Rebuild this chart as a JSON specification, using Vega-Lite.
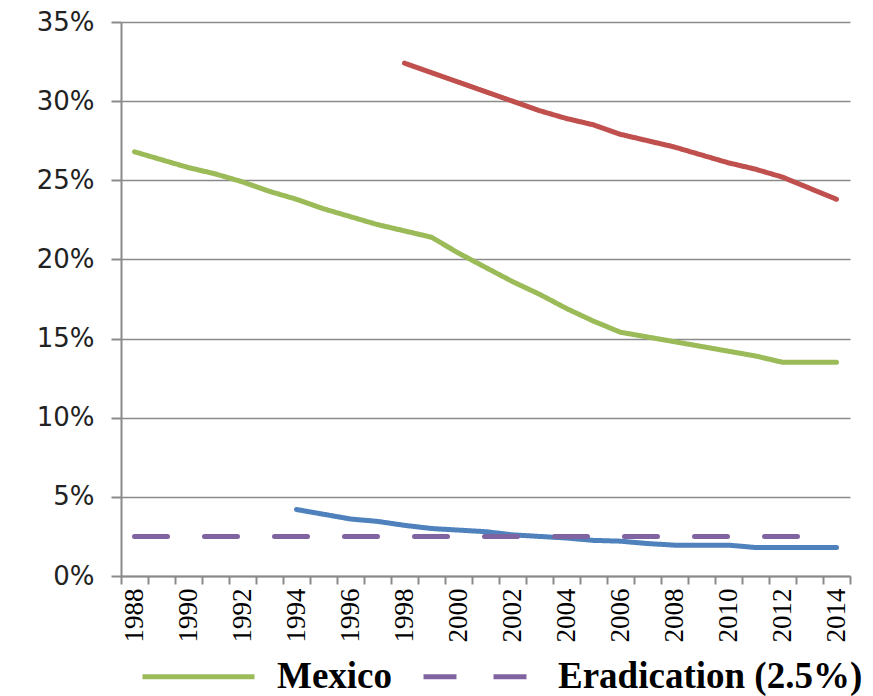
{
  "$schema": "https://vega.github.io/schema/vega-lite/v6.json",
  "width": 729,
  "height": 554,
  "autosize": {"type": "none"},
  "padding": {"left": 121, "top": 22, "right": 23, "bottom": 120},
  "background": "white",
  "config": {"view": {"stroke": null}},
  "data": {
    "values": [
      {"year": 1988, "series": "Mexico", "value": 26.8},
      {"year": 1989, "series": "Mexico", "value": 26.3},
      {"year": 1990, "series": "Mexico", "value": 25.8},
      {"year": 1991, "series": "Mexico", "value": 25.4},
      {"year": 1992, "series": "Mexico", "value": 24.9},
      {"year": 1993, "series": "Mexico", "value": 24.3},
      {"year": 1994, "series": "Mexico", "value": 23.8},
      {"year": 1995, "series": "Mexico", "value": 23.2},
      {"year": 1996, "series": "Mexico", "value": 22.7},
      {"year": 1997, "series": "Mexico", "value": 22.2},
      {"year": 1998, "series": "Mexico", "value": 21.8},
      {"year": 1999, "series": "Mexico", "value": 21.4},
      {"year": 2000, "series": "Mexico", "value": 20.4},
      {"year": 2001, "series": "Mexico", "value": 19.5},
      {"year": 2002, "series": "Mexico", "value": 18.6},
      {"year": 2003, "series": "Mexico", "value": 17.8},
      {"year": 2004, "series": "Mexico", "value": 16.9},
      {"year": 2005, "series": "Mexico", "value": 16.1},
      {"year": 2006, "series": "Mexico", "value": 15.4},
      {"year": 2007, "series": "Mexico", "value": 15.1},
      {"year": 2008, "series": "Mexico", "value": 14.8},
      {"year": 2009, "series": "Mexico", "value": 14.5},
      {"year": 2010, "series": "Mexico", "value": 14.2},
      {"year": 2011, "series": "Mexico", "value": 13.9},
      {"year": 2012, "series": "Mexico", "value": 13.5},
      {"year": 2013, "series": "Mexico", "value": 13.5},
      {"year": 2014, "series": "Mexico", "value": 13.5},

      {"year": 1998, "series": "Rural", "value": 32.4},
      {"year": 1999, "series": "Rural", "value": 31.8},
      {"year": 2000, "series": "Rural", "value": 31.2},
      {"year": 2001, "series": "Rural", "value": 30.6},
      {"year": 2002, "series": "Rural", "value": 30.0},
      {"year": 2003, "series": "Rural", "value": 29.4},
      {"year": 2004, "series": "Rural", "value": 28.9},
      {"year": 2005, "series": "Rural", "value": 28.5},
      {"year": 2006, "series": "Rural", "value": 27.9},
      {"year": 2007, "series": "Rural", "value": 27.5},
      {"year": 2008, "series": "Rural", "value": 27.1},
      {"year": 2009, "series": "Rural", "value": 26.6},
      {"year": 2010, "series": "Rural", "value": 26.1},
      {"year": 2011, "series": "Rural", "value": 25.7},
      {"year": 2012, "series": "Rural", "value": 25.2},
      {"year": 2013, "series": "Rural", "value": 24.5},
      {"year": 2014, "series": "Rural", "value": 23.8},

      {"year": 1994, "series": "Urban", "value": 4.2},
      {"year": 1995, "series": "Urban", "value": 3.9},
      {"year": 1996, "series": "Urban", "value": 3.6},
      {"year": 1997, "series": "Urban", "value": 3.45},
      {"year": 1998, "series": "Urban", "value": 3.2},
      {"year": 1999, "series": "Urban", "value": 3.0},
      {"year": 2000, "series": "Urban", "value": 2.9},
      {"year": 2001, "series": "Urban", "value": 2.8},
      {"year": 2002, "series": "Urban", "value": 2.6},
      {"year": 2003, "series": "Urban", "value": 2.5},
      {"year": 2004, "series": "Urban", "value": 2.4},
      {"year": 2005, "series": "Urban", "value": 2.25},
      {"year": 2006, "series": "Urban", "value": 2.2},
      {"year": 2007, "series": "Urban", "value": 2.05},
      {"year": 2008, "series": "Urban", "value": 1.95},
      {"year": 2009, "series": "Urban", "value": 1.95},
      {"year": 2010, "series": "Urban", "value": 1.95},
      {"year": 2011, "series": "Urban", "value": 1.8},
      {"year": 2012, "series": "Urban", "value": 1.8},
      {"year": 2013, "series": "Urban", "value": 1.8},
      {"year": 2014, "series": "Urban", "value": 1.8},

      {"year": 1988, "series": "Eradication (2.5%)", "value": 2.5},
      {"year": 1989, "series": "Eradication (2.5%)", "value": 2.5},
      {"year": 1990, "series": "Eradication (2.5%)", "value": 2.5},
      {"year": 1991, "series": "Eradication (2.5%)", "value": 2.5},
      {"year": 1992, "series": "Eradication (2.5%)", "value": 2.5},
      {"year": 1993, "series": "Eradication (2.5%)", "value": 2.5},
      {"year": 1994, "series": "Eradication (2.5%)", "value": 2.5},
      {"year": 1995, "series": "Eradication (2.5%)", "value": 2.5},
      {"year": 1996, "series": "Eradication (2.5%)", "value": 2.5},
      {"year": 1997, "series": "Eradication (2.5%)", "value": 2.5},
      {"year": 1998, "series": "Eradication (2.5%)", "value": 2.5},
      {"year": 1999, "series": "Eradication (2.5%)", "value": 2.5},
      {"year": 2000, "series": "Eradication (2.5%)", "value": 2.5},
      {"year": 2001, "series": "Eradication (2.5%)", "value": 2.5},
      {"year": 2002, "series": "Eradication (2.5%)", "value": 2.5},
      {"year": 2003, "series": "Eradication (2.5%)", "value": 2.5},
      {"year": 2004, "series": "Eradication (2.5%)", "value": 2.5},
      {"year": 2005, "series": "Eradication (2.5%)", "value": 2.5},
      {"year": 2006, "series": "Eradication (2.5%)", "value": 2.5},
      {"year": 2007, "series": "Eradication (2.5%)", "value": 2.5},
      {"year": 2008, "series": "Eradication (2.5%)", "value": 2.5},
      {"year": 2009, "series": "Eradication (2.5%)", "value": 2.5},
      {"year": 2010, "series": "Eradication (2.5%)", "value": 2.5},
      {"year": 2011, "series": "Eradication (2.5%)", "value": 2.5},
      {"year": 2012, "series": "Eradication (2.5%)", "value": 2.5},
      {"year": 2013, "series": "Eradication (2.5%)", "value": 2.5}
    ]
  },
  "mark": {"type": "line", "strokeWidth": 5, "strokeCap": "round", "strokeJoin": "round"},
  "encoding": {
    "x": {
      "field": "year",
      "type": "ordinal",
      "bandPosition": 0.5,
      "scale": {"type": "band", "paddingInner": 0, "paddingOuter": 0},
      "axis": {
        "title": null,
        "labelAngle": -90,
        "labelFont": "Liberation Serif",
        "labelFontSize": 27,
        "labelColor": "#000000",
        "labelPadding": 4,
        "labelOverlap": false,
        "labelExpr": "datum.value % 2 == 0 ? datum.label : ''",
        "tickBand": "extent",
        "tickSize": 8,
        "tickColor": "#8a8a8a",
        "tickWidth": 2,
        "domainColor": "#8a8a8a",
        "domainWidth": 2,
        "grid": false
      }
    },
    "y": {
      "field": "value",
      "type": "quantitative",
      "scale": {"domain": [0, 35], "nice": false},
      "axis": {
        "title": null,
        "values": [0, 5, 10, 15, 20, 25, 30, 35],
        "labelExpr": "datum.value + '%'",
        "labelFont": "DejaVu Sans",
        "labelFontSize": 26,
        "labelColor": "#222222",
        "labelPadding": 17,
        "tickSize": 10,
        "tickColor": "#8a8a8a",
        "tickWidth": 2,
        "domainColor": "#8a8a8a",
        "domainWidth": 2,
        "grid": true,
        "gridColor": "#8a8a8a",
        "gridWidth": 1.5
      }
    },
    "color": {
      "field": "series",
      "type": "nominal",
      "scale": {
        "domain": ["Mexico", "Eradication (2.5%)", "Rural", "Urban"],
        "range": ["#9BBB59", "#8064A2", "#C0504D", "#4F81BD"]
      },
      "legend": {
        "values": ["Mexico", "Eradication (2.5%)"],
        "orient": "none",
        "legendX": 19,
        "legendY": 596,
        "direction": "horizontal",
        "title": null,
        "padding": 0,
        "symbolType": "stroke",
        "symbolSize": 12544,
        "symbolStrokeWidth": 5,
        "labelFont": "Liberation Serif",
        "labelFontWeight": "bold",
        "labelFontSize": 37,
        "labelColor": "#000000",
        "labelOffset": 20,
        "labelLimit": 400,
        "columnPadding": 20
      }
    },
    "strokeDash": {
      "field": "series",
      "type": "nominal",
      "scale": {
        "domain": ["Mexico", "Eradication (2.5%)", "Rural", "Urban"],
        "range": [[1, 0], [33, 37], [1, 0], [1, 0]]
      },
      "legend": {
        "values": ["Mexico", "Eradication (2.5%)"],
        "orient": "none",
        "legendX": 19,
        "legendY": 596,
        "direction": "horizontal",
        "title": null,
        "padding": 0,
        "symbolType": "stroke",
        "symbolSize": 12544,
        "symbolStrokeWidth": 5,
        "labelFont": "Liberation Serif",
        "labelFontWeight": "bold",
        "labelFontSize": 37,
        "labelColor": "#000000",
        "labelOffset": 20,
        "labelLimit": 400,
        "columnPadding": 20
      }
    }
  }
}
